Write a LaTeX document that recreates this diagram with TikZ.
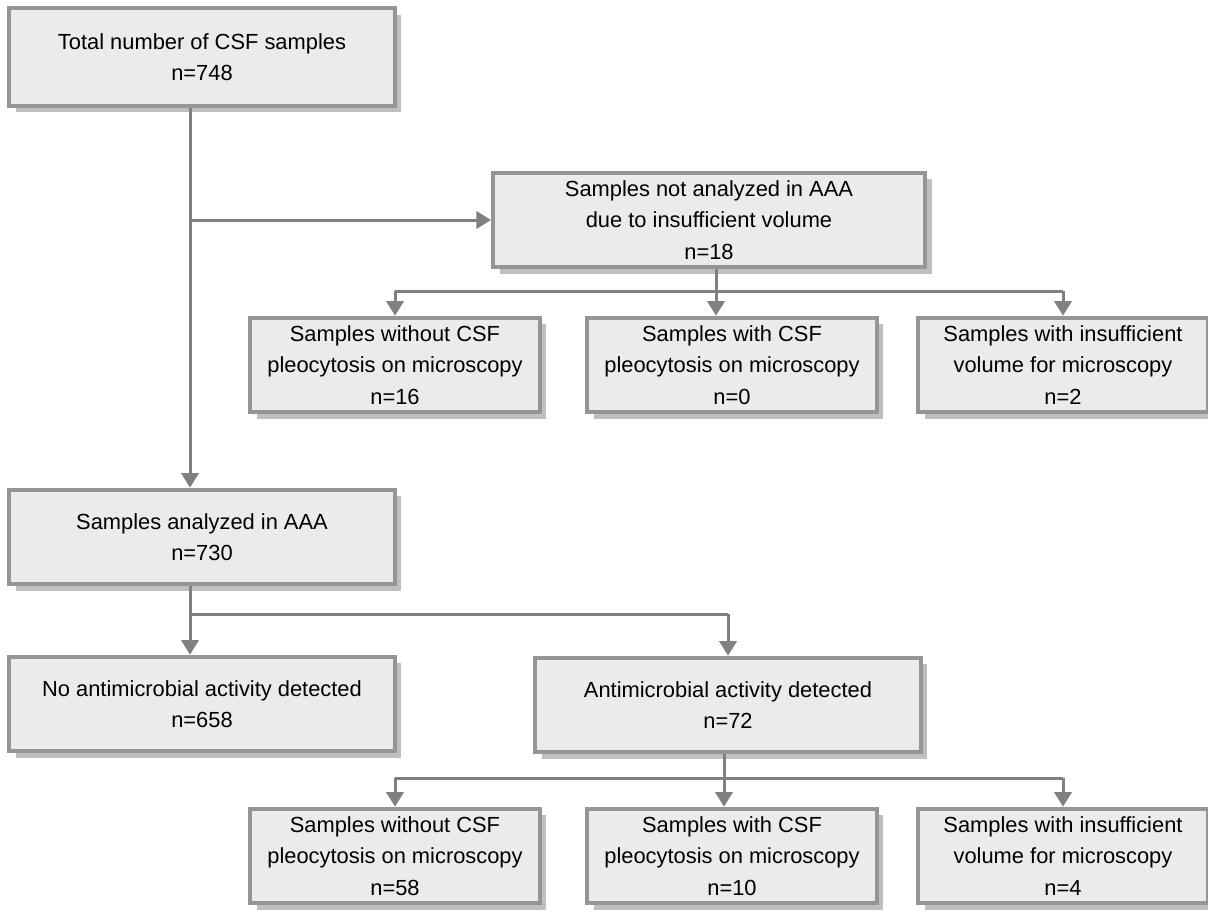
\documentclass[tikz,border=0pt]{standalone}
\usepackage{fontspec}
\setmainfont{Liberation Sans}
\usepackage{xcolor}
\definecolor{boxfill}{HTML}{EBEBEB}
\definecolor{boxline}{HTML}{959595}
\definecolor{flowgray}{HTML}{808080}
\usepackage{tikz}
\usetikzlibrary{positioning, arrows.meta, shadows}

\begin{document}
\begin{tikzpicture}[
  x=0.75pt, y=-0.75pt,
  boxnode/.style={
    draw=boxline, fill=boxfill, line width=3pt,
    minimum width=217pt, minimum height=71pt,
    inner sep=0pt, align=center,
    font=\fontsize{16.4}{23.6}\selectfont,
    drop shadow={shadow xshift=5pt, shadow yshift=-5pt,
                 fill=black!50, opacity=0.5}
  },
  widebox/.style={boxnode, minimum width=289pt},
  arrow/.style={-{Triangle[length=11pt, width=13pt]}, line width=2.25pt, flowgray},
  line/.style={line width=2.25pt, flowgray}
]
\useasboundingbox (0,0) rectangle (1208,914);

% ---- colonne de gauche ----
\node[widebox, minimum height=73pt] (total) at (202, 57)  {Total number of CSF samples\\n=748};
\node[widebox]                      (ana)   at (202, 537) {Samples analyzed in AAA\\n=730};
\node[widebox]                      (noact) at (202, 704) {No antimicrobial activity detected\\n=658};

% ---- echantillons non analyses ----
\node[boxnode, minimum width=324pt] (notana) at (709, 220)
  {Samples not analyzed in AAA\\due to insufficient volume\\n=18};
\node[boxnode] (nowo) at (395, 365)  {Samples without CSF\\pleocytosis on microscopy\\n=16};
\node[boxnode] (nowi) at (732, 365)  {Samples with CSF\\pleocytosis on microscopy\\n=0};
\node[boxnode] (noin) at (1063, 365) {Samples with insufficient\\volume for microscopy\\n=2};

% ---- activite antimicrobienne ----
\node[widebox] (act) at (728, 705) {Antimicrobial activity detected\\n=72};
\node[boxnode] (acwo) at (395, 856)  {Samples without CSF\\pleocytosis on microscopy\\n=58};
\node[boxnode] (acwi) at (732, 856)  {Samples with CSF\\pleocytosis on microscopy\\n=10};
\node[boxnode] (acin) at (1063, 856) {Samples with insufficient\\volume for microscopy\\n=4};

% ---- fleches ----
\draw[arrow] ([xshift=-9pt]total.south) -- ([xshift=-9pt]total.south |- ana.north);
\draw[arrow] ([xshift=-9pt]total.south |- notana.west) -- (notana.west);

\coordinate (split1) at (716, 291);
\draw[arrow] (notana.south -| split1) -- (nowi.north -| split1);
\draw[line]  (split1 -| nowo.north) -- (split1 -| noin.north);
\draw[arrow] (split1 -| nowo.north) -- (nowo.north);
\draw[arrow] (split1 -| noin.north) -- (noin.north);

\coordinate (split2) at ([xshift=-9pt]ana.south |- 0, 614);
\draw[line]  ([xshift=-9pt]ana.south) -- (split2);
\draw[arrow] (split2) -- (noact.north -| split2);
\draw[line]  (split2) -- (split2 -| act.north);
\draw[arrow] (split2 -| act.north) -- (act.north);

\coordinate (split3) at (724, 778);
\draw[arrow] (act.south -| split3) -- (acwi.north -| split3);
\draw[line]  (split3 -| acwo.north) -- (split3 -| acin.north);
\draw[arrow] (split3 -| acwo.north) -- (acwo.north);
\draw[arrow] (split3 -| acin.north) -- (acin.north);

\end{tikzpicture}
\end{document}
